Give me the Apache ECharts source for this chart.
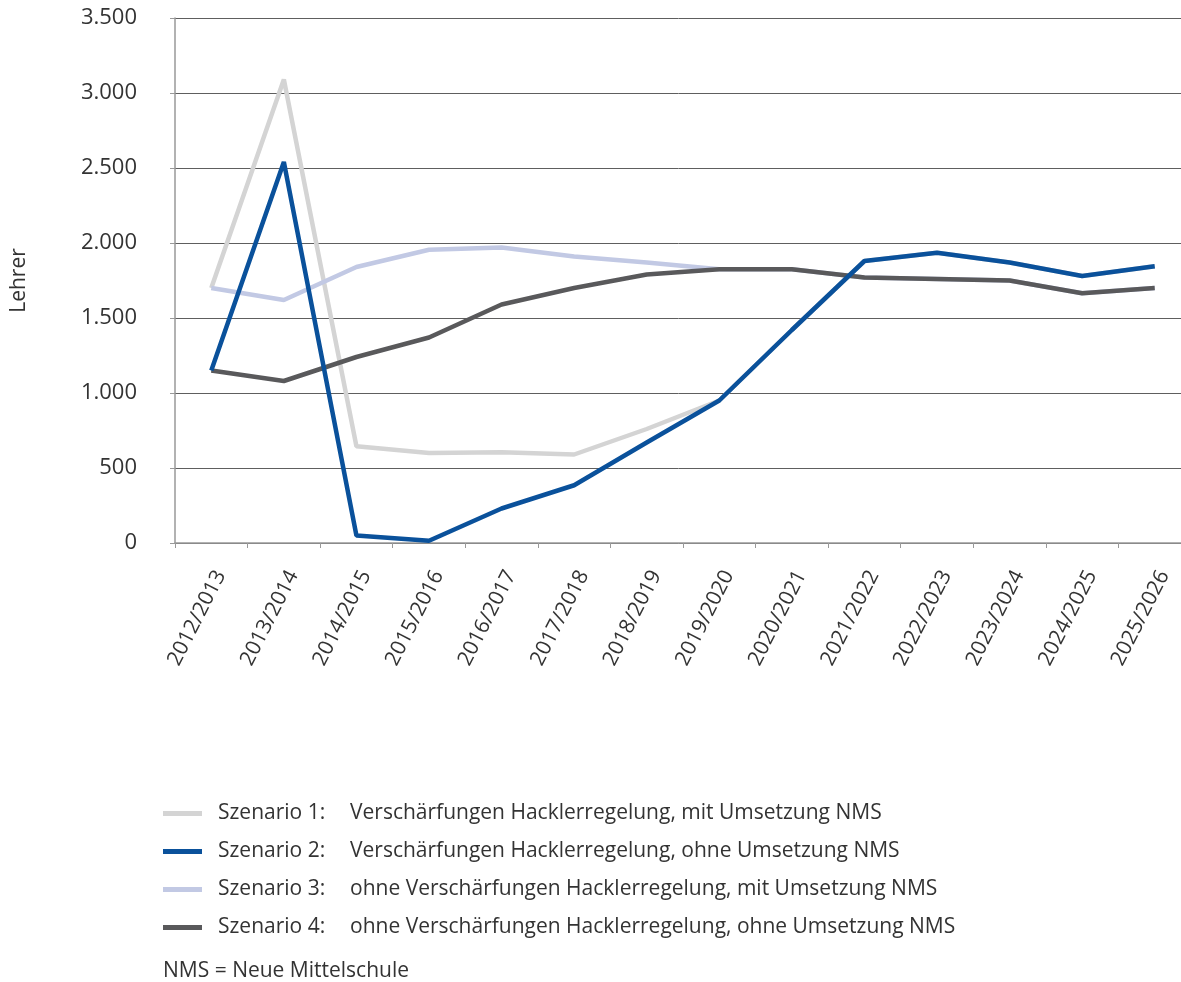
<!DOCTYPE html>
<html>
<head>
<meta charset="utf-8">
<script src="https://cdn.jsdelivr.net/npm/echarts@6/dist/echarts.min.js"></script>
<style>
  html, body { margin: 0; padding: 0; overflow: hidden; background: #fff; }
</style>
</head>
<body>
<div id="chart" style="width: 1181px; height: 982px;"></div>
<script>
const years = ['2012/2013', '2013/2014', '2014/2015', '2015/2016', '2016/2017', '2017/2018', '2018/2019',
    '2019/2020', '2020/2021', '2021/2022', '2022/2023', '2023/2024', '2024/2025', '2025/2026'];

// Lehrer je Szenario
const szenario1 = [1700, 3090, 645, 600, 605, 590, 760, 950, 1420, 1880, 1935, 1870, 1780, 1845];
const szenario2 = [1150, 2540, 50, 15, 230, 385, 670, 950, 1420, 1880, 1935, 1870, 1780, 1845];
const szenario3 = [1700, 1620, 1840, 1955, 1970, 1910, 1870, 1825, 1825, 1770, 1760, 1750, 1665, 1700];
const szenario4 = [1150, 1080, 1240, 1370, 1590, 1700, 1790, 1825, 1825, 1770, 1760, 1750, 1665, 1700];

const labels = {
    'Szenario 1': 'Verschärfungen Hacklerregelung, mit Umsetzung NMS',
    'Szenario 2': 'Verschärfungen Hacklerregelung, ohne Umsetzung NMS',
    'Szenario 3': 'ohne Verschärfungen Hacklerregelung, mit Umsetzung NMS',
    'Szenario 4': 'ohne Verschärfungen Hacklerregelung, ohne Umsetzung NMS'
};

const font = 'Open Sans';
const textColor = '#333';

let myChart = echarts.init(document.getElementById('chart'));

function line(name, data, color, z) {
    return {
        name: name,
        type: 'line',
        data: data,
        z: z,
        symbol: 'none',
        smooth: false,
        lineStyle: { color: color, width: 4.5 },
        itemStyle: { color: color }
    };
}

const option = {
    animation: false,
    grid: {
        left: 175,
        right: -10,
        top: 18,
        bottom: 439,
        outerBoundsMode: 'none',
        containLabel: false
    },
    xAxis: {
        type: 'category',
        data: years,
        boundaryGap: true,
        axisLine: { lineStyle: { color: '#999', width: 1.5 } },
        axisTick: { show: true, length: 5, lineStyle: { color: '#999' } },
        axisLabel: {
            rotate: 63,
            margin: 24,
            verticalAlign: 'top',
            fontSize: 21,
            fontFamily: font,
            color: textColor
        }
    },
    yAxis: {
        type: 'value',
        min: 0,
        max: 3500,
        interval: 500,
        name: 'Lehrer',
        nameLocation: 'middle',
        nameRotate: 90,
        nameGap: 145,
        nameTextStyle: { fontSize: 21, fontFamily: font, color: textColor },
        axisLine: { show: true, lineStyle: { color: '#999', width: 1.5 } },
        axisTick: { show: true, length: 5, lineStyle: { color: '#999' } },
        axisLabel: {
            margin: 38,
            fontSize: 22,
            fontFamily: font,
            color: textColor,
            formatter: function (v) {
                return v >= 1000 ? Math.floor(v / 1000) + '.' + String(v % 1000).padStart(3, '0') : String(v);
            }
        },
        splitLine: { lineStyle: { color: '#5e5e5e', width: 1 } }
    },
    legend: {
        orient: 'vertical',
        left: 163,
        top: 803,
        padding: 0,
        itemWidth: 39,
        itemHeight: 5,
        itemGap: 17,
        icon: 'rect',
        data: ['Szenario 1', 'Szenario 2', 'Szenario 3', 'Szenario 4'],
        formatter: function (name) {
            return '{a|' + name + ':}{b|' + labels[name] + '}';
        },
        textStyle: {
            fontSize: 21,
            fontFamily: font,
            color: textColor,
            rich: {
                a: { fontSize: 21, fontFamily: font, color: textColor, width: 132, lineHeight: 21, padding: [0, 0, 0, 11] },
                b: { fontSize: 21, fontFamily: font, color: textColor, lineHeight: 21 }
            }
        }
    },
    graphic: [
        {
            type: 'text',
            left: 163,
            top: 961,
            style: { text: 'NMS = Neue Mittelschule', fontSize: 21, fontFamily: font, fill: textColor }
        }
    ],
    series: [
        line('Szenario 1', szenario1, '#d4d4d4', 1),
        line('Szenario 2', szenario2, '#0a519b', 4),
        line('Szenario 3', szenario3, '#c2c9e4', 2),
        line('Szenario 4', szenario4, '#59595b', 3)
    ]
};

myChart.setOption(option);
</script>
</body>
</html>
